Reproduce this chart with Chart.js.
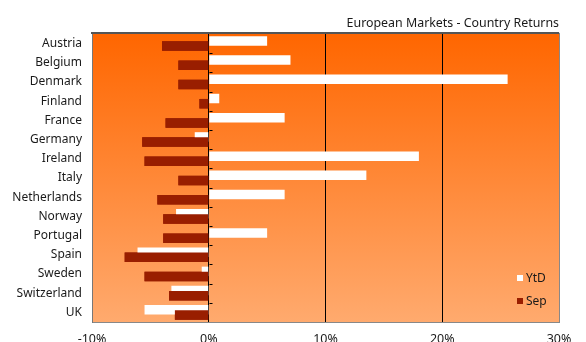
<!DOCTYPE html>
<html>
<head>
<meta charset="utf-8">
<script src="https://cdn.jsdelivr.net/npm/chart.js@4/dist/chart.umd.min.js"></script>
<style>
  body { margin: 0; background: #fff; }
  #wrap { width: 586px; height: 342px; overflow: hidden; }
</style>
</head>
<body>
<div id="wrap"><canvas id="returns" width="586" height="356"></canvas></div>
<script>
var countries = ['Austria', 'Belgium', 'Denmark', 'Finland', 'France', 'Germany', 'Ireland', 'Italy',
                 'Netherlands', 'Norway', 'Portugal', 'Spain', 'Sweden', 'Switzerland', 'UK'];
var ytd = [5.0, 7.0, 25.6, 0.9, 6.5, -1.2, 18.0, 13.5, 6.5, -2.8, 5.0, -6.1, -0.6, -3.2, -5.5];
var sep = [-4.0, -2.6, -2.6, -0.8, -3.7, -5.7, -5.5, -2.6, -4.4, -3.9, -3.9, -7.2, -5.5, -3.4, -2.9];
var xTicks = [-10, 0, 10, 20, 30];

var FONT = '"Noto Sans", sans-serif';
var TEXT = '#1a1a1a';

// orange gradient behind the bars
var plotBackground = {
  id: 'plotBackground',
  beforeDraw: function(chart) {
    var a = chart.chartArea, ctx = chart.ctx;
    var g = ctx.createLinearGradient(0, a.top, 0, a.bottom);
    g.addColorStop(0, '#ff6600');
    g.addColorStop(1, '#ffaa6e');
    ctx.save();
    ctx.fillStyle = g;
    ctx.fillRect(a.left, a.top, a.right - a.left, a.bottom - a.top);
    ctx.restore();
  }
};

// Sep bars sit over the YtD ones, plus frame, zero-line ticks and legend
var overlay = {
  id: 'overlay',
  afterDatasetsDraw: function(chart) {
    var ctx = chart.ctx, a = chart.chartArea;
    chart.getDatasetMeta(1).controller.draw();

    ctx.save();
    ctx.strokeStyle = '#555';
    ctx.lineWidth = 2;
    ctx.beginPath();
    ctx.moveTo(a.left - 1, a.top - 1);
    ctx.lineTo(a.right, a.top - 1);
    ctx.stroke();
    ctx.strokeStyle = '#888';
    ctx.lineWidth = 1;
    ctx.beginPath();
    ctx.moveTo(a.right + 0.5, a.top - 1);
    ctx.lineTo(a.right + 0.5, a.bottom);
    ctx.stroke();

    var x0 = Math.round(chart.scales.x.getPixelForValue(0)) + 0.5;
    var ys = chart.scales.y;
    ctx.strokeStyle = '#000';
    ctx.beginPath();
    for (var i = 0; i < countries.length - 1; i++) {
      var yb = Math.round((ys.getPixelForValue(i) + ys.getPixelForValue(i + 1)) / 2) + 0.5;
      ctx.moveTo(x0, yb);
      ctx.lineTo(x0 + 3, yb);
    }
    ctx.stroke();

    // legend, bottom right inside the plot
    ctx.font = '12px ' + FONT;
    ctx.textBaseline = 'middle';
    ctx.textAlign = 'left';
    var lx = a.right - 42, ly = a.bottom - 44;
    chart.data.datasets.forEach(function(ds, k) {
      var yy = ly + k * 23;
      ctx.fillStyle = ds.backgroundColor;
      ctx.fillRect(lx, yy - 3, 6, 6);
      ctx.fillStyle = TEXT;
      ctx.fillText(ds.label, lx + 9, yy + 1);
    });
    ctx.restore();
  }
};

new Chart(document.getElementById('returns'), {
  type: 'bar',
  data: {
    labels: countries,
    datasets: [
      { label: 'YtD', data: ytd, backgroundColor: '#ffffff', borderWidth: 0 },
      { label: 'Sep', data: sep, backgroundColor: '#991e00', borderWidth: 0 }
    ]
  },
  options: {
    indexAxis: 'y',
    responsive: false,
    animation: false,
    categoryPercentage: 0.54,
    barPercentage: 1.83,
    layout: { padding: { top: 4, right: 27, bottom: 0, left: 0 } },
    plugins: {
      legend: { display: false },
      tooltip: { enabled: false },
      title: {
        display: true,
        text: 'European Markets - Country Returns',
        align: 'end',
        color: TEXT,
        font: { family: FONT, size: 12.4, weight: 'normal' },
        padding: { top: 12, bottom: 3 }
      }
    },
    scales: {
      x: {
        min: -10,
        max: 30,
        afterBuildTicks: function(s) { s.ticks = xTicks.map(function(v) { return { value: v }; }); },
        afterFit: function(s) { s.height = 34; },
        ticks: {
          color: TEXT,
          font: { family: FONT, size: 12.5 },
          padding: 10,
          callback: function(v) { return v + '%'; }
        },
        grid: {
          drawTicks: false,
          color: function(c) {
            var v = c.tick && c.tick.value;
            if (v === 0 || v === 10 || v === 20) return '#000';
            return 'rgba(0,0,0,0)';
          }
        },
        border: { display: true, color: '#888' }
      },
      y: {
        afterFit: function(s) { s.width = 92; },
        ticks: {
          color: TEXT,
          font: { family: FONT, size: 12 },
          padding: 10
        },
        grid: { display: false, drawTicks: false },
        border: { display: true, color: '#777' }
      }
    }
  },
  plugins: [plotBackground, overlay]
});
</script>
</body>
</html>
